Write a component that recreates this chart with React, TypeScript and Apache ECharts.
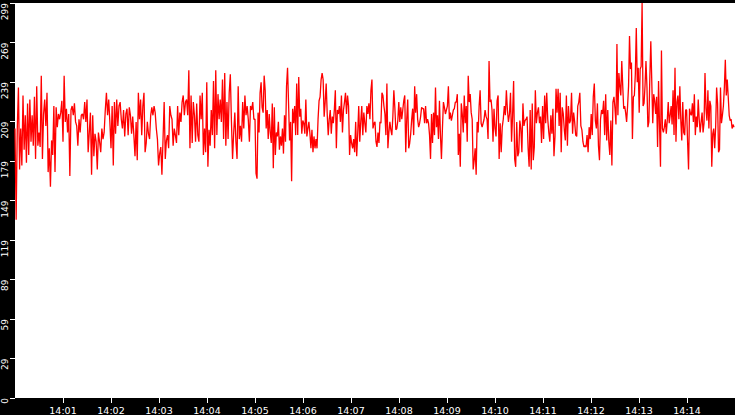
import React, { useEffect, useRef } from "react";
import * as echarts from "echarts";

// samples per 2.5-minute block (14:00:00 - 14:15:00)
const seg1 = [
  204, 135, 204, 235, 173, 204, 176, 229, 188, 214, 178, 223, 184, 226, 194, 214, 191, 228, 181, 236,
  191, 201, 190, 244, 181, 215, 226, 206, 231, 171, 189, 160, 195, 184, 221, 171, 220, 205, 215, 211,
  216, 225, 194, 244, 209, 219, 201, 215, 168, 218, 221, 214, 223, 209, 206, 191, 211, 201, 214, 215,
  211, 224, 209, 226, 186, 201, 216, 169, 214, 183, 200, 194, 173, 201, 194, 186, 204, 196, 201, 218,
  231, 214, 226, 209, 189, 221, 176, 224, 200, 226, 206, 221, 224, 211, 204, 218, 198, 215, 219, 199,
  220, 214, 200, 213, 199,
];
const seg2 = [
  183, 209, 180, 231, 211, 226, 199, 221, 231, 186, 193, 209, 200, 196, 214, 220, 214, 221, 216, 204,
  196, 176, 185, 190, 169, 196, 224, 181, 195, 199, 189, 221, 214, 211, 191, 204, 199, 193, 221, 199,
  216, 209, 224, 229, 214, 224, 226, 214, 248, 189, 229, 193, 224, 214, 194, 223, 199, 194, 229, 211,
  231, 184, 204, 186, 239, 175, 203, 191, 218, 199, 240, 189, 248, 199, 230, 211, 226, 209, 241, 196,
  246, 191, 224, 196, 231, 245, 209, 181, 201, 216, 194, 181, 236, 196, 206, 194, 224, 204, 229, 214,
  221, 211, 194, 221, 218, 224, 211,
];
const seg3 = [
  211, 170, 166, 216, 201, 231, 239, 220, 216, 244, 233, 204, 218, 196, 215, 201, 193, 223, 174, 220,
  184, 201, 198, 209, 188, 198, 191, 204, 185, 214, 194, 236, 250, 223, 195, 209, 164, 219, 208, 221,
  199, 238, 199, 243, 213, 219, 200, 210, 208, 200, 226, 198, 204, 209, 200, 189, 203, 186, 198, 189,
  196, 189, 211, 225, 228, 241, 246, 241, 213, 224, 238, 215, 199, 211, 218, 200, 213, 208, 218, 233,
  189, 218, 215, 221, 209, 229, 201, 218, 224, 231, 215, 229, 221, 184, 199, 193, 189, 196, 186, 209,
  183, 200, 221, 194, 209, 221, 199, 216, 208, 201, 221, 215, 223, 211, 233, 241, 204, 208,
];
const seg4 = [
  209, 194, 190, 201, 193, 209, 208, 231, 229, 221, 215, 199, 238, 189, 201, 209, 203, 199, 213, 233,
  220, 203, 204, 210, 224, 209, 220, 211, 218, 225, 229, 186, 211, 226, 189, 193, 200, 211, 219, 199,
  236, 216, 230, 211, 205, 208, 213, 220, 219, 219, 208, 221, 208, 211, 208, 199, 181, 215, 193, 216,
  199, 235, 205, 214, 196, 225, 199, 181, 204, 224, 220, 215, 218, 221, 236, 211, 216, 210, 214, 218,
  219, 224, 224, 230, 184, 200, 175, 223, 215, 201, 229, 208, 221, 194, 244, 224, 230, 216, 211, 173,
  180, 189, 169, 209, 201, 221, 233, 208, 205, 208, 211, 218, 213, 211, 196, 255, 224, 226, 218, 194,
  219,
];
const seg5 = [
  204, 198, 225, 229, 181, 208, 186, 205, 211, 221, 214, 233, 218, 209, 215, 231, 194, 214, 240, 181,
  175, 209, 183, 186, 210, 204, 186, 223, 206, 210, 211, 213, 189, 175, 218, 173, 223, 180, 190, 233,
  208, 216, 220, 208, 213, 193, 221, 196, 229, 208, 231, 211, 201, 194, 214, 200, 219, 183, 198, 234,
  216, 234, 206, 231, 186, 220, 215, 203, 195, 229, 191, 221, 208, 210, 231, 200, 216, 209, 199, 198,
  221, 224, 231, 206, 203, 194, 190, 191, 190, 199, 186, 205, 196, 215, 199, 228, 238, 210, 204, 223,
  191, 180, 211, 218, 215, 225, 199, 230, 195, 218, 194, 184, 210, 176, 224, 228,
];
const seg6 = [
  219, 207, 268, 214, 246, 236, 229, 255, 236, 219, 221, 216, 209, 221, 236, 274, 249, 254, 196, 228,
  229, 245, 280, 239, 250, 216, 249, 251, 299, 221, 223, 236, 255, 236, 205, 209, 243, 270, 240, 208,
  230, 225, 215, 228, 190, 240, 207, 175, 263, 204, 201, 205, 211, 200, 210, 224, 208, 214, 221, 207,
  233, 199, 250, 194, 224, 229, 211, 236, 210, 195, 224, 201, 199, 218, 218, 194, 173, 219, 215, 214,
  223, 209, 230, 199, 213, 205, 226, 211, 201, 209, 216, 201, 208, 246, 219, 210, 233, 204, 225, 221,
  175, 200, 204, 189, 205, 235, 223, 186, 188, 235, 208, 214, 221, 235, 256, 229, 241, 228, 214, 210,
  211, 204, 207, 205,
];
const segments = [seg1, seg2, seg3, seg4, seg5, seg6];
const segSeconds = 150;

const xTickValues = [60, 120, 180, 240, 300, 360, 420, 480, 540, 600, 660, 720, 780, 840];
const xTickLabels = [
  "14:01", "14:02", "14:03", "14:04", "14:05", "14:06", "14:07",
  "14:08", "14:09", "14:10", "14:11", "14:12", "14:13", "14:14",
];
const yTickLabels = ["0", "29", "59", "89", "119", "149", "179", "209", "239", "269", "299"];
const yMax = 299;
const yStep = 29.9;

const App: React.FC = () => {
  const chartRef = useRef<HTMLDivElement>(null);

  useEffect(() => {
    document.body.style.margin = "0";
    if (!chartRef.current) return;
    const chart = echarts.init(chartRef.current, null, { renderer: "svg" });

    const points: number[][] = [];
    segments.forEach((seg, k) => {
      seg.forEach((v, i) => {
        points.push([k * segSeconds + (i * segSeconds) / seg.length, v]);
      });
    });

    const labelFont = {
      color: "#fff",
      fontFamily: "DejaVu Sans",
      fontSize: 9,
    };

    chart.setOption({
      animation: false,
      backgroundColor: "#000",
      grid: {
        left: 15,
        right: 0,
        top: 0,
        bottom: 16,
        show: true,
        backgroundColor: "#fff",
        borderWidth: 0,
      },
      xAxis: {
        type: "value",
        min: 0,
        max: 900,
        axisLine: { show: false },
        splitLine: { show: false },
        axisTick: {
          show: true,
          length: 5,
          lineStyle: { color: "#fff" },
          customValues: xTickValues,
        },
        axisLabel: {
          ...labelFont,
          fontSize: 9.5,
          margin: 7,
          customValues: xTickValues,
          formatter: (v: number) => xTickLabels[xTickValues.indexOf(Math.round(v))] ?? "",
        },
      },
      yAxis: {
        type: "value",
        min: 0,
        max: yMax,
        interval: yStep,
        axisLine: { show: false },
        splitLine: { show: false },
        axisTick: { show: true, length: 5, lineStyle: { color: "#fff" } },
        axisLabel: {
          ...labelFont,
          rotate: 90,
          align: "right",
          margin: 6,
          showMaxLabel: true,
          formatter: (v: number) => yTickLabels[Math.round(v / yStep)] ?? "",
        },
      },
      series: [
        {
          type: "line",
          data: points,
          symbol: "none",
          lineStyle: { color: "#ff0000", width: 1.3 },
        },
      ],
    });

    return () => {
      chart.dispose();
    };
  }, []);

  return <div ref={chartRef} style={{ width: 735, height: 415 }} />;
};

export default App;
